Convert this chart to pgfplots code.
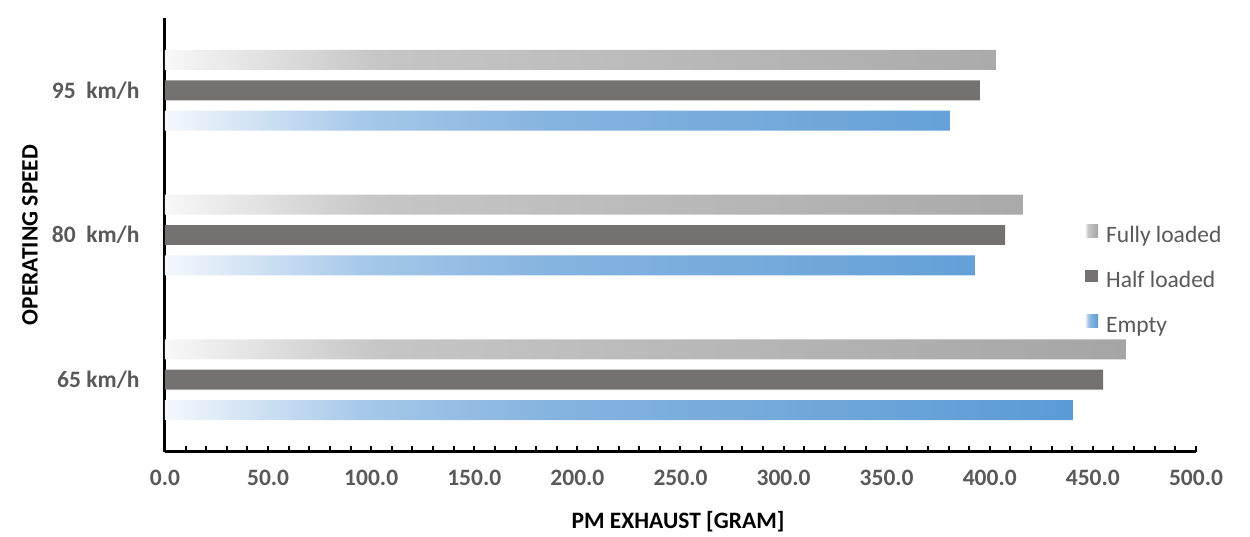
\documentclass[border=0pt]{standalone}
\usepackage{fontspec}
\setmainfont{Carlito}
\usepackage{pgfplots}
\pgfplotsset{compat=1.18}
\definecolor{tickgray}{HTML}{595959}
\definecolor{halfc}{HTML}{767171}
\definecolor{fA}{HTML}{F8F8F8}
\definecolor{fB}{HTML}{C6C6C6}
\definecolor{fC}{HTML}{BEBEBE}
\definecolor{fD}{HTML}{A5A5A5}
\definecolor{eA}{HTML}{F4F8FC}
\definecolor{eB}{HTML}{A5C8E9}
\definecolor{eC}{HTML}{86B4E0}
\definecolor{eD}{HTML}{5B9BD5}
\pgfdeclarehorizontalshading{fullgrad}{100bp}{color(0bp)=(fA); color(25bp)=(fA); color(36bp)=(fB); color(46bp)=(fC); color(75bp)=(fD); color(100bp)=(fD)}
\pgfdeclarehorizontalshading{emptygrad}{100bp}{color(0bp)=(eA); color(25bp)=(eA); color(36bp)=(eB); color(46bp)=(eC); color(75bp)=(eD); color(100bp)=(eD)}
\begin{document}
\begin{tikzpicture}
\useasboundingbox (-165pt,-85pt) rectangle (1085pt,452pt);
\begin{axis}[
  at={(0pt,0pt)}, anchor=south west,
  scale only axis, width=1031pt, height=434pt,
  xmin=0, xmax=500, ymin=0.5, ymax=3.5,
  axis x line=bottom, axis y line=left,
  axis line style={-, line width=3pt, black},
  xtick={0,50,...,500},
  minor xtick={10,20,...,490},
  tick align=inside,
  major tick length=6pt, minor tick length=6pt,
  x tick style={line width=2pt, black},
  every minor tick/.style={line width=2pt, black},
  ytick={1,2,3},
  yticklabels={65 km/h, 80\ \ km/h, 95\ \ km/h},
  y tick style={draw=none},
  /pgf/number format/assume math mode=true,
  xticklabel={\pgfmathprintnumber[fixed, fixed zerofill, precision=1]{\tick}},
  ticklabel style={font=\fontsize{23.5}{28}\selectfont\bfseries, text=tickgray},
  xticklabel style={yshift=-15pt},
  yticklabel style={xshift=-16pt},
  xlabel={PM EXHAUST [GRAM]},
  ylabel={OPERATING SPEED},
  every axis x label/.style={at={(axis description cs:0.4976,0)}, yshift=-70pt, anchor=center, font=\fontsize{23.5}{28}\selectfont\bfseries},
  every axis y label/.style={at={(axis description cs:0,0.5)}, xshift=-135pt, rotate=90, anchor=center, font=\fontsize{23.5}{28}\selectfont\bfseries},
  xbar, bar width=0.138, bar shift=0pt,
  legend image code/.code={\path[#1] (0pt,0pt) rectangle (13pt,12.5pt);},
  legend style={draw=none, fill=none, at={(rel axis cs:0.8923,0.394)}, anchor=west,
    inner sep=0pt, row sep=22pt,
    font=\fontsize{23.5}{28}\selectfont, text=tickgray,
    nodes={inner sep=0pt, anchor=west, text height=16pt, text depth=5pt},
    /tikz/every odd column/.append style={column sep=8pt}},
  legend cell align=left,
]
\addplot[xbar, draw=none, shade, shading=fullgrad] coordinates {(466,1.21) (416,2.21) (403,3.21)};
\addlegendentry{Fully loaded}
\addplot[xbar, draw=none, fill=halfc] coordinates {(455,1) (407.5,2) (395.2,3)};
\addlegendentry{Half loaded}
\addplot[xbar, draw=none, shade, shading=emptygrad] coordinates {(440.3,0.79) (392.8,1.79) (380.7,2.79)};
\addlegendentry{Empty}
\end{axis}
\end{tikzpicture}
\end{document}
